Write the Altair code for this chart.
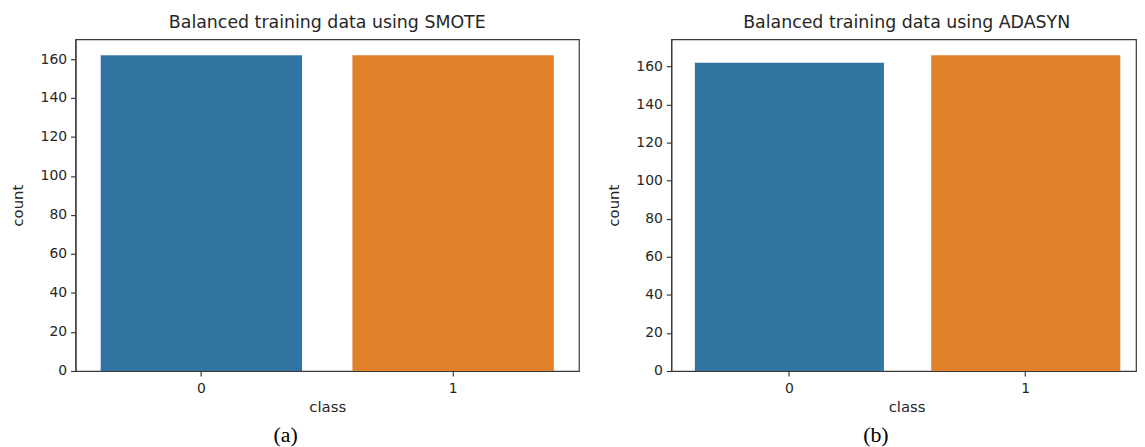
import altair as alt
import pandas as pd

classes = ["0", "1"]
smote_counts = [162, 162]
adasyn_counts = [162, 166]
bar_colors = ["#3274A1", "#E1812C"]
tick_values = [0, 20, 40, 60, 80, 100, 120, 140, 160]
titles = ["Balanced training data using SMOTE", "Balanced training data using ADASYN"]
sublabels = ["(a)", "(b)"]

FRAME = "#3a3a3a"
TXT = "#262626"


def panel(counts, title, sub, width, pad_outer, align, sub_x, class_x, title_dx):
    df = pd.DataFrame({"class": classes, "count": counts})
    ymax = max(counts) * 1.05
    bars = alt.Chart(df).mark_bar().encode(
        x=alt.X(
            "class:N",
            scale=alt.Scale(paddingInner=0.2, paddingOuter=pad_outer, align=align),
            axis=alt.Axis(labelAngle=0, title="class", titleX=class_x),
        ),
        y=alt.Y(
            "count:Q",
            scale=alt.Scale(domain=[0, ymax], nice=False, zero=True),
            axis=alt.Axis(values=tick_values, title="count"),
        ),
        color=alt.Color("class:N", scale=alt.Scale(domain=classes, range=bar_colors), legend=None),
    )
    lab = alt.Chart(pd.DataFrame({"t": [sub]})).mark_text(
        font="Liberation Serif", fontSize=22, baseline="alphabetic", align="center", color="#000000"
    ).encode(text="t:N", x=alt.value(sub_x), y=alt.value(406))
    return alt.layer(bars, lab).properties(
        width=width,
        height=334,
        title=alt.TitleParams(
            title, fontSize=17.5, font="DejaVu Sans", fontWeight="normal", color=TXT,
            anchor="middle", baseline="bottom", offset=-10, dx=title_dx,
        ),
    )


left = panel(smote_counts, titles[0], sublabels[0], 507, 0.1, 0.5, 211.5, 253.5, 0)
right = panel(adasyn_counts, titles[1], sublabels[1], 468, 0.083, 0.6, 206, 237, 3)

chart = alt.hconcat(left, right, spacing=26).properties(
    padding={"left": 2, "top": 3, "right": 0, "bottom": 0}
).configure_view(
    stroke=FRAME, strokeWidth=1.2
).configure_axis(
    grid=False,
    domainColor=FRAME,
    domainWidth=1.2,
    tickColor=FRAME,
    tickSize=5,
    tickWidth=1.2,
    labelColor=TXT,
    labelFont="DejaVu Sans",
    labelFontSize=14,
    labelPadding=4,
    titleColor=TXT,
    titleFont="DejaVu Sans",
    titleFontSize=15,
    titleFontWeight="normal",
).configure_axisY(
    titlePadding=14.5
).configure_axisX(
    titlePadding=4, labelPadding=5.5
)

chart.save("out.html", embed_options={"renderer": "svg", "actions": False})
